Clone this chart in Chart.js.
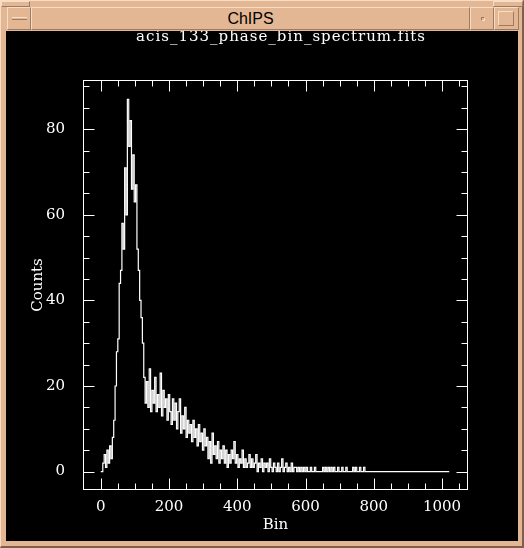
<!DOCTYPE html>
<html>
<head>
<meta charset="utf-8">
<title>ChIPS</title>
<script src="https://cdn.jsdelivr.net/npm/chart.js@4.4.1/dist/chart.umd.min.js"></script>
<style>
    html, body { margin: 0; padding: 0; background: #e4b794; }
    #win { position: absolute; left: 0; top: 0; width: 524px; height: 548px; background: #e4b794;
           box-sizing: border-box; border-top: 1px solid #f7dcc6; border-left: 1px solid #f7dcc6;
           border-right: 2px solid #7d5f4b; border-bottom: 2px solid #7d5f4b; }
    .bev { position: absolute; box-sizing: border-box; border-top: 1px solid #f7dcc6; border-left: 1px solid #f7dcc6;
           border-bottom: 1px solid #9c7b62; border-right: 1px solid #9c7b62; }
    #grip-l { left: 0; top: 0; width: 29px; height: 6px; }
    #grip-r { left: 492px; top: 0; width: 30px; height: 6px; }
    #btn-min { left: 6px; top: 6px; width: 24px; height: 23px; }
    #btn-min span { position: absolute; left: 4px; top: 9px; width: 15px; height: 3px; box-sizing: border-box;
                    border-top: 1px solid #f7dcc6; border-bottom: 1px solid #9c7b62; }
    #bar { left: 30px; top: 6px; width: 439px; height: 23px; font: 16px "Liberation Sans", sans-serif;
           color: #000; text-align: center; line-height: 22px; }
    #btn-ico { left: 469px; top: 6px; width: 24px; height: 23px; }
    #btn-ico span { position: absolute; left: 10px; top: 9px; width: 4px; height: 4px; box-sizing: border-box;
                    border-top: 1px solid #9c7b62; border-left: 1px solid #9c7b62; border-right: 1px solid #f7dcc6; border-bottom: 1px solid #f7dcc6; }
    #btn-max { left: 493px; top: 6px; width: 25px; height: 23px; }
    #btn-max span { position: absolute; left: 3px; top: 3px; width: 16px; height: 15px; box-sizing: border-box;
                    border-top: 1px solid #f7dcc6; border-left: 1px solid #f7dcc6; border-right: 1px solid #9c7b62; border-bottom: 1px solid #9c7b62; }
    #plot { position: absolute; left: 6px; top: 31px; width: 512px; height: 510px; background: #000; }
</style>
</head>
<body>
<div id="win">
    <div class="bev" id="grip-l"></div>
    <div class="bev" id="grip-r"></div>
    <div class="bev" id="btn-min"><span></span></div>
    <div class="bev" id="bar">ChIPS</div>
    <div class="bev" id="btn-ico"><span></span></div>
    <div class="bev" id="btn-max"><span></span></div>
</div>
<div id="plot"><canvas id="spectrum" width="512" height="510"></canvas></div>

<script>
// Spectrum, one value every 4 bins
const bins = [
    0, 4, 8, 12, 16, 20, 24, 28, 32, 36, 40, 44, 48, 52, 56, 60, 64, 68, 72, 76,
    80, 84, 88, 92, 96, 100, 104, 108, 112, 116, 120, 124, 128, 132, 136, 140, 144, 148, 152, 156,
    160, 164, 168, 172, 176, 180, 184, 188, 192, 196, 200, 204, 208, 212, 216, 220, 224, 228, 232, 236,
    240, 244, 248, 252, 256, 260, 264, 268, 272, 276, 280, 284, 288, 292, 296, 300, 304, 308, 312, 316,
    320, 324, 328, 332, 336, 340, 344, 348, 352, 356, 360, 364, 368, 372, 376, 380, 384, 388, 392, 396,
    400, 404, 408, 412, 416, 420, 424, 428, 432, 436, 440, 444, 448, 452, 456, 460, 464, 468, 472, 476,
    480, 484, 488, 492, 496, 500, 504, 508, 512, 516, 520, 524, 528, 532, 536, 540, 544, 548, 552, 556,
    560, 564, 568, 572, 576, 580, 584, 588, 592, 596, 600, 604, 608, 612, 616, 620, 624, 628, 632, 636,
    640, 644, 648, 652, 656, 660, 664, 668, 672, 676, 680, 684, 688, 692, 696, 700, 704, 708, 712, 716,
    720, 724, 728, 732, 736, 740, 744, 748, 752, 756, 760, 764, 768, 772, 776, 1021
];
const counts = [
    0, 0, 2, 4, 1, 5, 2, 6, 3, 8, 12, 20, 28, 31, 44, 47, 58, 52, 71, 60,
    87, 76, 82, 66, 74, 63, 67, 52, 47, 40, 36, 30, 22, 16, 21, 15, 24, 14, 19, 16,
    22, 14, 18, 15, 23, 13, 19, 15, 17, 12, 18, 14, 11, 17, 12, 16, 10, 14, 17, 9,
    13, 10, 15, 8, 12, 9, 11, 7, 12, 8, 10, 6, 11, 7, 9, 5, 10, 6, 8, 3,
    7, 2, 9, 4, 6, 3, 7, 2, 5, 3, 6, 2, 5, 1, 4, 2, 5, 3, 7, 2,
    4, 1, 3, 2, 5, 1, 3, 1, 2, 4, 1, 3, 1, 2, 4, 0, 2, 1, 3, 0,
    2, 1, 2, 0, 3, 1, 0, 2, 1, 0, 2, 0, 1, 3, 0, 1, 2, 0, 1, 0,
    2, 0, 1, 1, 0, 1, 0, 1, 0, 1, 0, 1, 0, 0, 1, 0, 0, 1, 0, 0,
    0, 0, 0, 1, 0, 1, 0, 1, 0, 1, 0, 1, 0, 0, 1, 0, 0, 1, 0, 0,
    1, 0, 0, 0, 0, 1, 0, 1, 0, 0, 1, 0, 0, 1, 0, 0
];

const xTicks = [0, 200, 400, 600, 800, 1000];
const yTicks = [0, 20, 40, 60, 80];
const X_MIN = -52, X_MAX = 1076;
const Y_MIN = -4.3, Y_MAX = 91.5;
const X_MINOR = 50, Y_MINOR = 5;

const labelFont = { family: '"DejaVu Serif", serif', size: 15 };

// Inward ticks on all four sides, like the ChiPS frame
const frameTicks = {
    id: 'frameTicks',
    afterDraw(chart) {
        const { ctx, chartArea: a, scales: { x, y } } = chart;
        const L = Math.round(a.left) + 0.5, R = Math.round(a.right) - 0.5;
        const T = Math.round(a.top) + 0.5, B = Math.round(a.bottom) - 0.5;
        ctx.save();
        ctx.strokeStyle = '#fff';
        ctx.lineWidth = 1;
        ctx.strokeRect(L, T, R - L, B - T);
        ctx.beginPath();
        for (let v = Math.ceil(X_MIN / X_MINOR) * X_MINOR; v <= X_MAX; v += X_MINOR) {
            const px = Math.round(x.getPixelForValue(v)) + 0.5;
            if (px <= L + 1 || px >= R - 1) continue;
            const len = xTicks.includes(v) ? 11 : 6;
            ctx.moveTo(px, B); ctx.lineTo(px, B - len);
            ctx.moveTo(px, T); ctx.lineTo(px, T + len);
        }
        for (let v = Math.ceil(Y_MIN / Y_MINOR) * Y_MINOR; v <= Y_MAX; v += Y_MINOR) {
            const py = Math.round(y.getPixelForValue(v)) + 0.5;
            if (py <= T + 1 || py >= B - 1) continue;
            const len = yTicks.includes(v) ? 11 : 6;
            ctx.moveTo(L, py); ctx.lineTo(L + len, py);
            ctx.moveTo(R, py); ctx.lineTo(R - len, py);
        }
        ctx.stroke();
        ctx.restore();
    }
};

// File name drawn above the frame
const fileTitle = {
    id: 'fileTitle',
    afterDraw(chart) {
        const ctx = chart.ctx;
        ctx.save();
        ctx.fillStyle = '#fff';
        ctx.font = '15px "DejaVu Serif", serif';
        ctx.letterSpacing = '1px';
        ctx.textAlign = 'center';
        ctx.textBaseline = 'alphabetic';
        ctx.fillText('acis_133_phase_bin_spectrum.fits', 275, 10);
        ctx.restore();
    }
};

new Chart(document.getElementById('spectrum'), {
    type: 'line',
    data: {
        datasets: [{
            data: bins.map((b, i) => ({ x: b, y: counts[i] })),
            borderColor: '#fff',
            borderWidth: 1.2,
            stepped: 'middle',
            pointRadius: 0,
            fill: false
        }]
    },
    options: {
        responsive: false,
        animation: false,
        layout: { padding: { top: 49, right: 50, left: 0, bottom: 0 } },
        plugins: { legend: { display: false }, tooltip: { enabled: false } },
        scales: {
            x: {
                type: 'linear',
                min: X_MIN,
                max: X_MAX,
                afterBuildTicks: s => { s.ticks = xTicks.map(v => ({ value: v })); },
                afterFit: s => { s.height = 51; },
                grid: { display: false },
                border: { display: false },
                ticks: { color: '#fff', font: labelFont, padding: 0, maxRotation: 0, autoSkip: false, callback: v => String(v) },
                title: { display: true, text: 'Bin', color: '#fff', font: labelFont, padding: { top: 0, bottom: 7 } }
            },
            y: {
                type: 'linear',
                min: Y_MIN,
                max: Y_MAX,
                afterBuildTicks: s => { s.ticks = yTicks.map(v => ({ value: v })); },
                afterFit: s => { s.width = 77; },
                grid: { display: false },
                border: { display: false },
                ticks: { color: '#fff', font: labelFont, padding: 10, autoSkip: false, callback: v => String(v) },
                title: { display: true, text: 'Counts', color: '#fff', font: labelFont, padding: { top: 23, bottom: 0 } }
            }
        }
    },
    plugins: [frameTicks, fileTitle]
});
</script>
</body>
</html>
